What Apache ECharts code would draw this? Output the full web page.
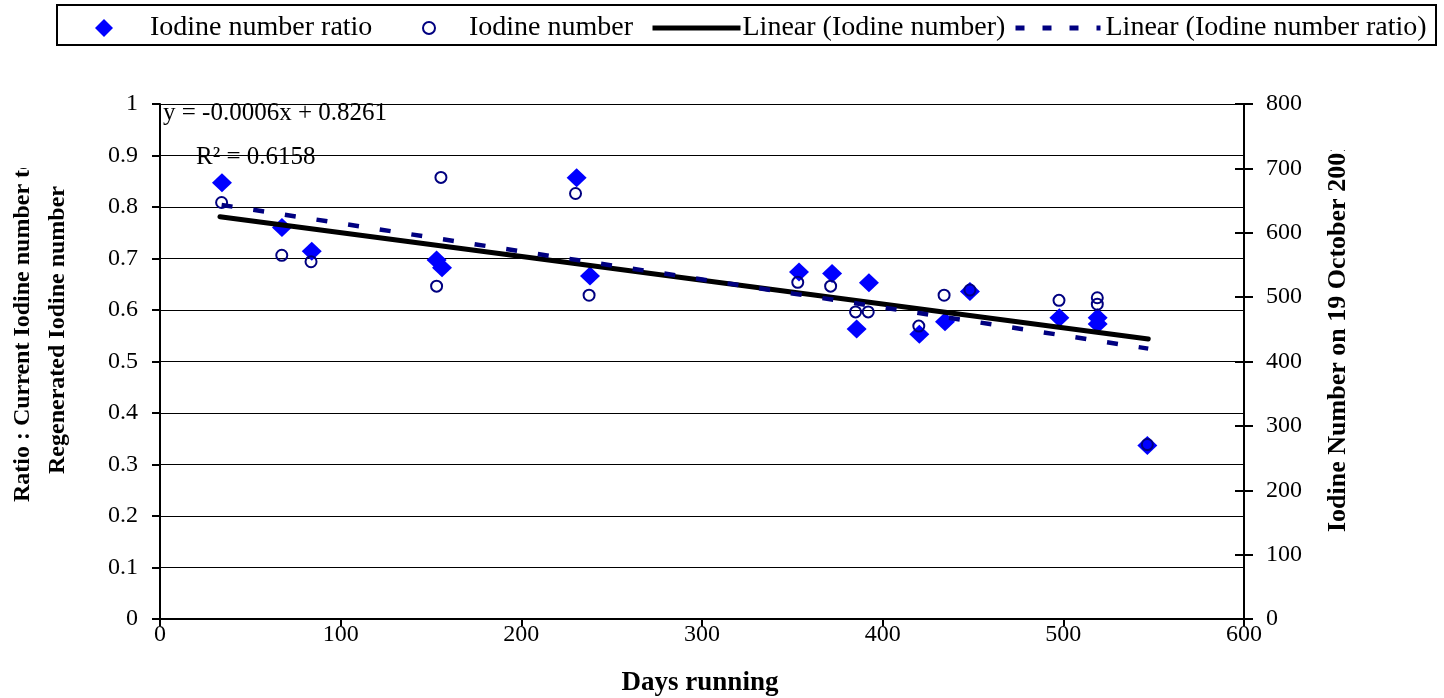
<!DOCTYPE html>
<html>
<head>
<meta charset="utf-8">
<script src="https://cdn.jsdelivr.net/npm/echarts@6/dist/echarts.min.js"></script>
<style>
html,body{margin:0;padding:0;background:#fff;}
#chart{width:1444px;height:698px;}
</style>
</head>
<body>
<div id="chart"></div>
<script>
// ---- data ----
var ratioDays   = [34.3, 67.5, 84.0, 153.1, 156.1, 230.6, 238.0, 353.7, 372.0, 385.6, 392.4, 420.3, 434.5, 448.3, 497.8, 519.0, 519.0, 546.5];
var ratioValues = [0.847, 0.760, 0.714, 0.697, 0.682, 0.857, 0.666, 0.674, 0.671, 0.563, 0.653, 0.553, 0.577, 0.636, 0.585, 0.585, 0.573, 0.337];

var iodineDays   = [34.1, 67.4, 83.6, 153.1, 155.5, 230.0, 237.5, 353.0, 371.2, 385.0, 392.0, 420.0, 434.0, 448.3, 497.6, 518.8, 518.8, 546.5];
var iodineValues = [647, 565, 555, 517, 686, 661, 503, 523, 517, 477, 477, 455, 503, 511, 495, 499, 489, 271];

// trend line end points (as drawn in the reference)
var trendIodineDays   = [33.2, 547];
var trendIodineValues = [625, 435];
var trendRatioDays    = [34.1, 547];
var trendRatioValues  = [0.804, 0.525];

var seriesNames = ['Iodine number ratio', 'Iodine number', 'Linear (Iodine number)', 'Linear (Iodine number ratio)'];
var equationText = 'y = -0.0006x + 0.8261';
var r2Text = 'R\u00B2 = 0.6158';
var xTitle = 'Days running';
var yLeftTitle = 'Ratio : Current Iodine number to\nRegenerated Iodine number';
var yRightTitle = 'Iodine Number on 19 October 2001';

function pairs(xs, ys){ return xs.map(function(x,i){ return [x, ys[i]]; }); }

var FONT = '"Liberation Serif", "Times New Roman", serif';
var chart = echarts.init(document.getElementById('chart'), null, {renderer:'canvas'});

function legendItem(name, left, top, w, h, pad, extra){
  var l = {
    data:[name], left:left, top:top, padding:0, itemWidth:w, itemHeight:h,
    selectedMode:false,
    textStyle:{fontFamily:FONT, fontSize:28, color:'#000', padding:[0,0,0,pad]}
  };
  if (extra) { for (var k in extra) l[k] = extra[k]; }
  return l;
}

var option = {
  animation:false,
  backgroundColor:'#fff',
  grid:{left:160, right:200, top:104, bottom:79, containLabel:false},
  legend:[
    legendItem(seriesNames[0], 95, 14, 18, 18, 32),
    legendItem(seriesNames[1], 422, 14, 12, 12, 29),
    legendItem(seriesNames[2], 650, 14, 88, 16, -3, {
      itemStyle:{opacity:0},
      lineStyle:{color:'#000', width:5, type:'solid', cap:'butt'}
    }),
    legendItem(seriesNames[3], 1013, 14, 85, 16, 0, {
      itemStyle:{opacity:0},
      lineStyle:{color:'#000080', width:5, type:[9,18], cap:'butt'}
    })
  ],
  xAxis:{
    type:'value', min:0, max:600, interval:100,
    axisLine:{show:true, onZero:false, lineStyle:{color:'#000', width:2}},
    axisTick:{show:true, inside:false, length:7, lineStyle:{color:'#000', width:2}},
    axisLabel:{fontFamily:FONT, fontSize:24, color:'#000', margin:4},
    splitLine:{show:false}
  },
  yAxis:[
    {
      type:'value', min:0, max:1, interval:0.1, position:'left',
      axisLine:{show:true, lineStyle:{color:'#000', width:2}},
      axisTick:{show:true, inside:false, length:8, lineStyle:{color:'#000', width:2}},
      axisLabel:{fontFamily:FONT, fontSize:24, color:'#000', margin:22},
      splitLine:{show:true, lineStyle:{color:'#000', width:1}}
    },
    {
      type:'value', min:0, max:800, interval:100, position:'right',
      axisLine:{show:true, lineStyle:{color:'#000', width:2}},
      axisTick:{show:true, inside:false, length:9, lineStyle:{color:'#000', width:2}},
      axisLabel:{fontFamily:FONT, fontSize:24, color:'#000', margin:22},
      splitLine:{show:false}
    },
    {
      type:'value', min:0, max:800, interval:100, position:'right',
      axisLine:{show:false},
      axisTick:{show:true, inside:true, length:9, lineStyle:{color:'#000', width:2}},
      axisLabel:{show:false},
      splitLine:{show:false}
    }
  ],
  series:[
    {
      name:seriesNames[0], type:'scatter', yAxisIndex:0,
      symbol:'diamond', symbolSize:[20,19],
      itemStyle:{color:'#0000FF', opacity:1},
      data:pairs(ratioDays, ratioValues), z:2
    },
    {
      name:seriesNames[1], type:'scatter', yAxisIndex:1,
      symbol:'circle', symbolSize:11,
      itemStyle:{color:'rgba(0,0,0,0)', borderColor:'#000080', borderWidth:2, opacity:1},
      data:pairs(iodineDays, iodineValues), z:3
    },
    {
      name:seriesNames[2], type:'line', yAxisIndex:1,
      symbol:'none', showSymbol:false,
      lineStyle:{color:'#000', width:5, cap:'round'},
      itemStyle:{color:'#000'},
      data:pairs(trendIodineDays, trendIodineValues), z:4
    },
    {
      name:seriesNames[3], type:'line', yAxisIndex:0,
      symbol:'none', showSymbol:false,
      lineStyle:{color:'#000080', width:4.5, type:[11,21], cap:'butt'},
      itemStyle:{color:'#000080'},
      data:pairs(trendRatioDays, trendRatioValues), z:5
    }
  ],
  graphic:[
    {type:'rect', shape:{x:57, y:5, width:1379, height:40}, style:{fill:'none', stroke:'#000', lineWidth:2}, z:1},
    {type:'text', x:163, y:113, z:10, style:{text:equationText, font:'25px ' + FONT, fill:'#000', align:'left', textAlign:'left', verticalAlign:'middle', textVerticalAlign:'middle'}},
    {type:'text', x:196, y:157, z:10, style:{text:r2Text, font:'25px ' + FONT, fill:'#000', align:'left', textAlign:'left', verticalAlign:'middle', textVerticalAlign:'middle'}},
    {type:'text', x:700, y:683, z:10, style:{text:xTitle, font:'bold 27px ' + FONT, fill:'#000', align:'center', textAlign:'center', verticalAlign:'middle', textVerticalAlign:'middle'}},
    {type:'text', x:40, y:330, rotation:Math.PI/2, z:10, style:{text:yLeftTitle, font:'bold 24px ' + FONT, lineHeight:35, fill:'#000', align:'center', textAlign:'center', verticalAlign:'middle', textVerticalAlign:'middle'}},
    {type:'text', x:1338, y:532, rotation:Math.PI/2, z:10, style:{text:yRightTitle, font:'bold 26px ' + FONT, fill:'#000', align:'left', textAlign:'left', verticalAlign:'middle', textVerticalAlign:'middle'}},
    {type:'rect', shape:{x:0, y:60, width:42, height:108}, style:{fill:'#fff'}, z:20},
    {type:'rect', shape:{x:1320, y:60, width:40, height:90}, style:{fill:'#fff'}, z:20}
  ]
};
chart.setOption(option);
</script>
</body>
</html>
